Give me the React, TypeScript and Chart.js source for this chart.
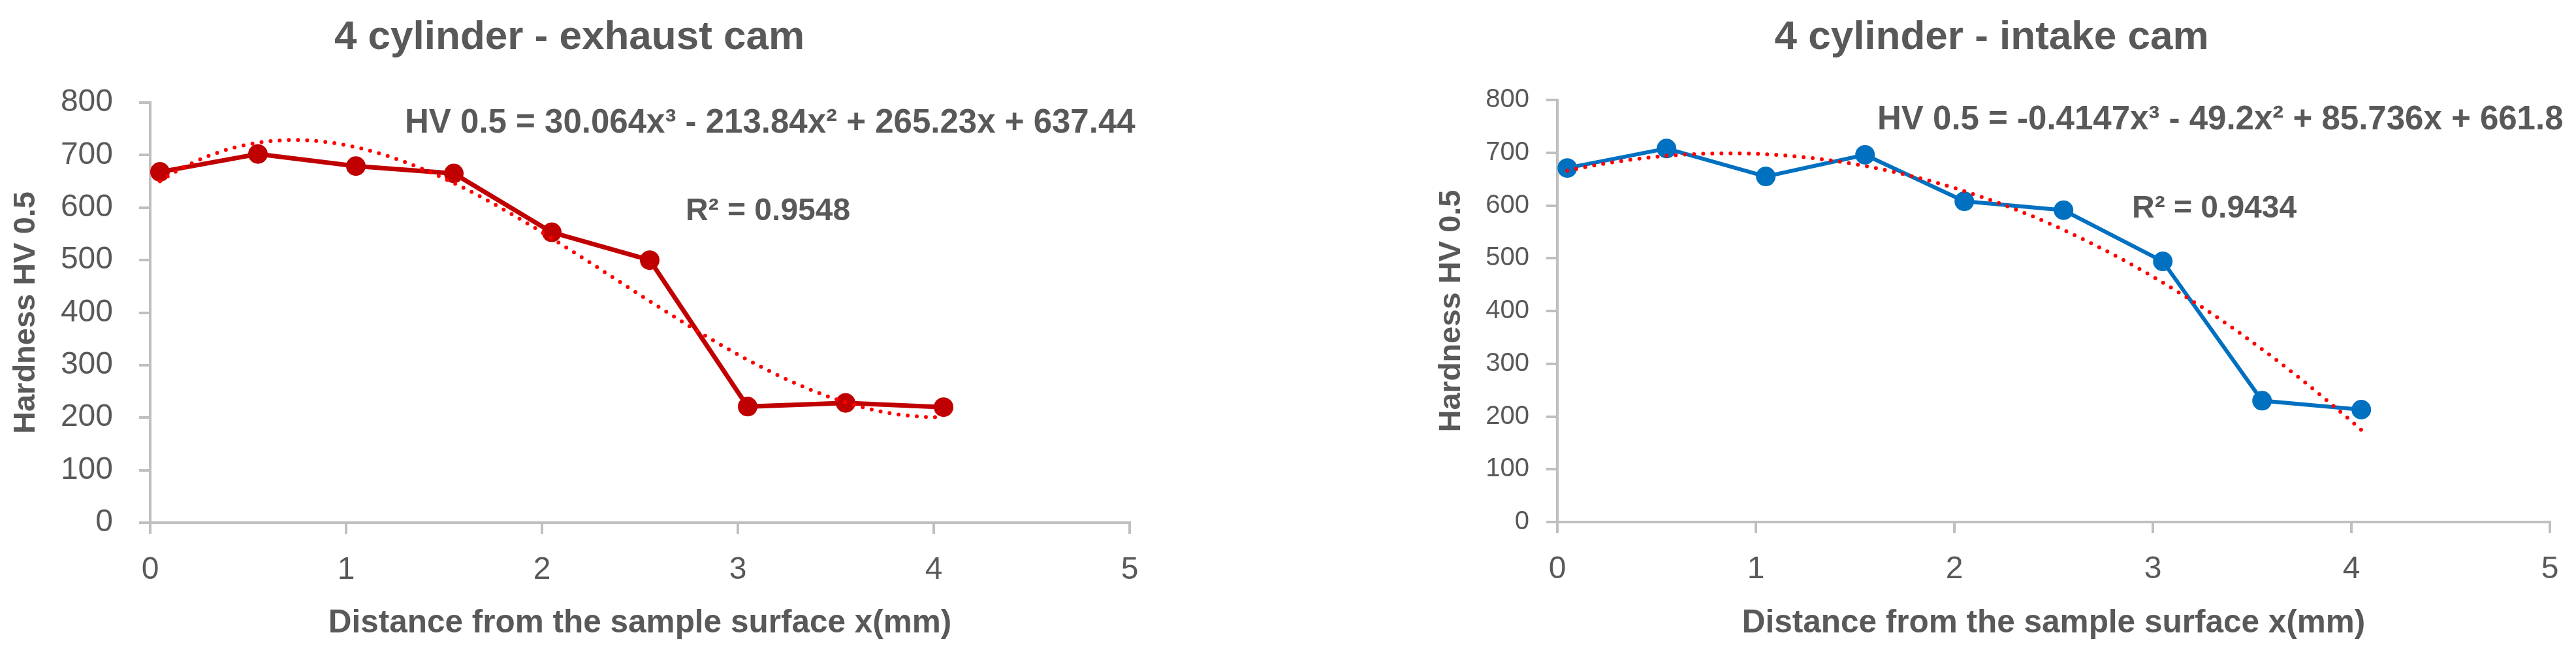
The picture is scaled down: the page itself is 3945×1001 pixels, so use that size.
import React, { useEffect, useRef } from "react";
import { Chart, registerables } from "chart.js";

Chart.register(...registerables);

// ---------- data ----------
const distance = [0.05, 0.55, 1.05, 1.55, 2.05, 2.55, 3.05, 3.55, 4.05];
const exhaustHardness = [668, 702, 679, 665, 553, 500, 221, 228, 220];
const intakeHardness = [671, 708, 655, 696, 608, 591, 494, 230, 213];

// polynomial trendline coefficients as printed on the chart (x^3, x^2, x, c)
const exhaustTrendCoef = [30.064, -213.84, 265.23, 637.44];
const intakeTrendCoef = [-0.4147, -49.2, 85.736, 661.8];

const exhaustTitle = "4 cylinder - exhaust cam";
const intakeTitle = "4 cylinder - intake cam";
const exhaustEquation = "HV 0.5 = 30.064x³ - 213.84x² + 265.23x + 637.44";
const intakeEquation = "HV 0.5 = -0.4147x³ - 49.2x² + 85.736x + 661.8";
const exhaustR2 = "R² = 0.9548";
const intakeR2 = "R² = 0.9434";
const xAxisTitle = "Distance from the sample surface x(mm)";
const yAxisTitle = "Hardness HV 0.5";
const xTicks = [0, 1, 2, 3, 4, 5];
const yTicks = [0, 100, 200, 300, 400, 500, 600, 700, 800];

const FONT = "'Liberation Sans', Arial, sans-serif";
const TEXT = "#595959";
const AXIS = "#BFBFBF";

function trendPoints(coef: number[]) {
  const pts: { x: number; y: number }[] = [];
  const x0 = distance[0];
  const x1 = distance[distance.length - 1];
  const n = 160;
  for (let i = 0; i <= n; i++) {
    const x = x0 + ((x1 - x0) * i) / n;
    const y = ((coef[0] * x + coef[1]) * x + coef[2]) * x + coef[3];
    pts.push({ x, y });
  }
  return pts;
}

type Spec = {
  left: number;
  width: number;
  padTop: number;
  padRight: number;
  yWidth: number;
  xHeight: number;
  color: string;
  lineWidth: number;
  values: number[];
  coef: number[];
  title: string;
  eq: string;
  r2: string;
  titleX: number;
  eqX: number;
  eqY: number;
  r2X: number;
  r2Y: number;
  yTitleX: number;
  yTickFont: number;
  yTickPad: number;
};

function ChartPanel({ spec }: { spec: Spec }) {
  const ref = useRef<HTMLCanvasElement | null>(null);
  useEffect(() => {
    if (!ref.current) return;
    const s = spec;
    const textPlugin = {
      id: "texts" + s.left,
      afterDraw(chart: any) {
        const ctx = chart.ctx;
        const ca = chart.chartArea;
        ctx.save();
        ctx.fillStyle = TEXT;
        ctx.textBaseline = "alphabetic";
        // title
        ctx.font = `bold 62px ${FONT}`;
        ctx.textAlign = "center";
        ctx.fillText(s.title, s.titleX, 75);
        // equation & R2
        ctx.font = `bold 51px ${FONT}`;
        ctx.textAlign = "left";
        ctx.fillText(s.eq, s.eqX, s.eqY);
        ctx.font = `bold 48px ${FONT}`;
        ctx.fillText(s.r2, s.r2X, s.r2Y);
        // x axis title
        ctx.font = `bold 49.5px ${FONT}`;
        ctx.textAlign = "center";
        ctx.fillText(xAxisTitle, (ca.left + ca.right) / 2, 968);
        // y axis title
        ctx.translate(s.yTitleX, (ca.top + ca.bottom) / 2);
        ctx.rotate(-Math.PI / 2);
        ctx.font = `bold 47px ${FONT}`;
        ctx.textAlign = "center";
        ctx.textBaseline = "middle";
        ctx.fillText(yAxisTitle, 0, 0);
        ctx.restore();
      },
    };
    const chart = new Chart(ref.current, {
      type: "line",
      data: {
        datasets: [
          {
            label: "trend",
            data: trendPoints(s.coef),
            borderColor: "#FF0000",
            borderWidth: 6,
            borderDash: [0, 14],
            borderCapStyle: "round",
            pointRadius: 0,
            fill: false,
            tension: 0,
            order: 0,
          },
          {
            label: "series",
            data: distance.map((x, i) => ({ x, y: s.values[i] })),
            borderColor: s.color,
            backgroundColor: s.color,
            borderWidth: s.lineWidth,
            pointRadius: 15,
            pointBackgroundColor: s.color,
            pointBorderWidth: 0,
            fill: false,
            tension: 0,
            order: 1,
          },
        ],
      } as any,
      options: {
        responsive: false,
        animation: false,
        events: [],
        layout: { padding: { top: s.padTop, right: s.padRight, left: 0, bottom: 0 } },
        plugins: {
          legend: { display: false },
          tooltip: { enabled: false },
          title: { display: false },
        },
        scales: {
          x: {
            type: "linear",
            min: 0,
            max: 5,
            afterBuildTicks: (axis: any) => {
              axis.ticks = xTicks.map((v) => ({ value: v }));
            },
            ticks: {
              font: { family: FONT, size: 48 },
              color: TEXT,
              padding: 27,
              maxRotation: 0,
            },
            grid: {
              drawOnChartArea: false,
              drawTicks: true,
              tickLength: 17,
              color: AXIS,
              lineWidth: 4,
            },
            border: { color: AXIS, width: 4 },
            afterFit: (axis: any) => {
              axis.height = s.xHeight;
              axis.paddingLeft = 0;
              axis.paddingRight = 0;
            },
          },
          y: {
            type: "linear",
            min: 0,
            max: 800,
            afterBuildTicks: (axis: any) => {
              axis.ticks = yTicks.map((v) => ({ value: v }));
            },
            ticks: {
              font: { family: FONT, size: s.yTickFont },
              color: TEXT,
              padding: s.yTickPad,
            },
            grid: {
              drawOnChartArea: false,
              drawTicks: true,
              tickLength: 17,
              color: AXIS,
              lineWidth: 4,
            },
            border: { color: AXIS, width: 4 },
            afterFit: (axis: any) => {
              axis.width = s.yWidth;
              axis.paddingTop = 0;
              axis.paddingBottom = 0;
            },
          },
        },
      } as any,
      plugins: [textPlugin],
    });
    return () => chart.destroy();
  }, [spec]);
  return (
    <canvas
      ref={ref}
      width={spec.width}
      height={1001}
      style={{ position: "absolute", left: spec.left, top: 0, width: spec.width, height: 1001 }}
    />
  );
}

const leftSpec: Spec = {
  left: 0,
  width: 1760,
  padTop: 157,
  padRight: 30,
  yWidth: 230,
  xHeight: 201,
  color: "#C00000",
  lineWidth: 7,
  values: exhaustHardness,
  coef: exhaustTrendCoef,
  title: exhaustTitle,
  eq: exhaustEquation,
  r2: exhaustR2,
  titleX: 872,
  eqX: 620,
  eqY: 203,
  r2X: 1050,
  r2Y: 337,
  yTitleX: 40,
  yTickFont: 48,
  yTickPad: 40,
};

const rightSpec: Spec = {
  left: 2155,
  width: 1790,
  padTop: 153,
  padRight: 40,
  yWidth: 230,
  xHeight: 202,
  color: "#0070C0",
  lineWidth: 6,
  values: intakeHardness,
  coef: intakeTrendCoef,
  title: intakeTitle,
  eq: intakeEquation,
  r2: intakeR2,
  titleX: 895,
  eqX: 720,
  eqY: 198,
  r2X: 1110,
  r2Y: 333,
  yTitleX: 68,
  yTickFont: 40,
  yTickPad: 26,
};

export default function App() {
  return (
    <div
      style={{
        position: "fixed",
        left: 0,
        top: 0,
        width: 3945,
        height: 1001,
        background: "#FFFFFF",
        overflow: "hidden",
      }}
    >
      <ChartPanel spec={leftSpec} />
      <ChartPanel spec={rightSpec} />
    </div>
  );
}
